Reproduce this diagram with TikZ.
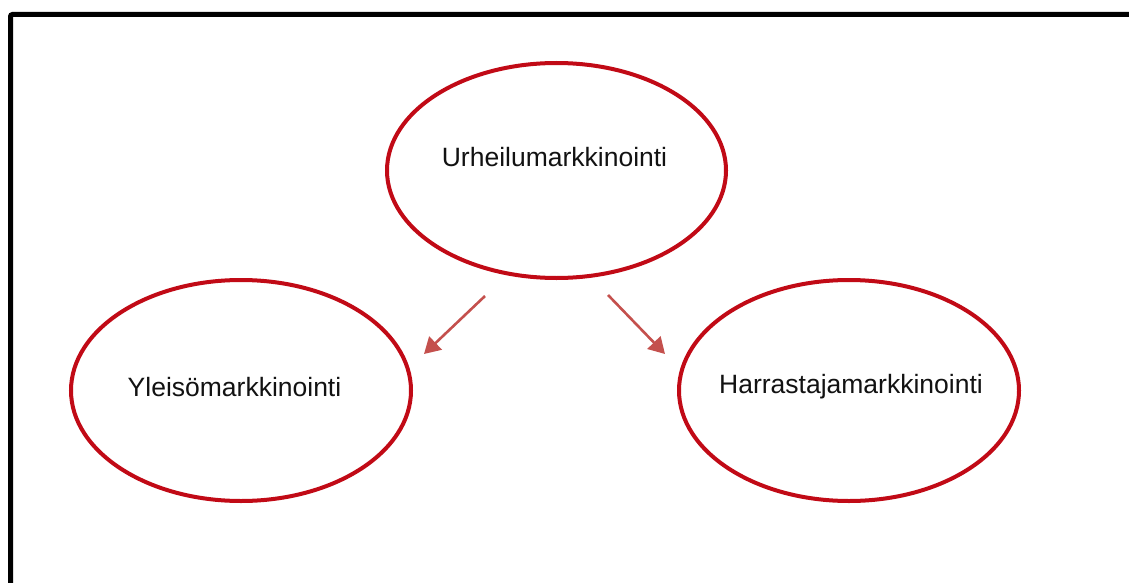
\documentclass[tikz,border=0pt]{standalone}
\usepackage{fontspec}
\setmainfont{Liberation Sans}
\usetikzlibrary{shapes.geometric,arrows.meta}
\definecolor{ellred}{RGB}{193,10,22}
\definecolor{arrred}{RGB}{196,80,77}
\tikzset{
  oval/.style={ellipse, draw=ellred, line width=4pt, inner sep=0pt, fill=white},
  lbl/.style={anchor=base, inner sep=0pt, font=\fontsize{26.5}{30}\selectfont, text=black!93},
  link/.style={draw=arrred, line width=2.6pt, -{Triangle[length=16pt,width=18pt]}},
  frame/.style={draw=black, line width=5pt, rounded corners=2pt}
}
\begin{document}
\begin{tikzpicture}[x=1pt,y=-1pt]
\useasboundingbox (0,0) rectangle (1129,583);
% frame
\coordinate (fb) at (10.5,590);
\coordinate (fc) at (10.5,14.5);
\coordinate (fr) at (1135,14.5);
\draw[frame] (fb) -- (fc) -- (fr);
% ellipses
\node[oval, minimum width=339pt, minimum height=215pt] (top) at (556.5,170.5) {};
\node[oval, minimum width=340pt, minimum height=221pt] (left) at (241,390.5) {};
\node[oval, minimum width=340pt, minimum height=221pt] (right) at (849,390.5) {};
% labels
\node[lbl] (toplbl) at (554.5,166) {Urheilumarkkinointi};
\node[lbl] (leftlbl) at (234.5,396.5) {Yleisömarkkinointi};
\node[lbl] (rightlbl) at (851,393.5) {Harrastajamarkkinointi};
% arrows
\coordinate (a1s) at (485,296);
\coordinate (a1e) at (424,354);
\coordinate (a2s) at (608,295);
\coordinate (a2e) at (665,354);
\draw[link] (a1s) -- (a1e);
\draw[link] (a2s) -- (a2e);
\end{tikzpicture}
\end{document}
